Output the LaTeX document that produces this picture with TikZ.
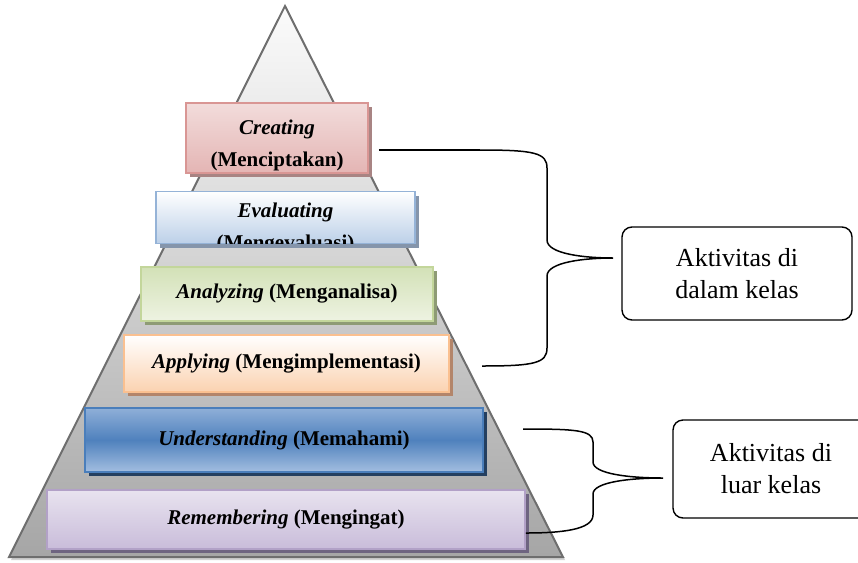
\documentclass[tikz,border=0pt]{standalone}
\usepackage{fontspec}
\setmainfont{Liberation Serif}
\usetikzlibrary{shadows,positioning}

\definecolor{pyrline}{HTML}{6E6E6E}
\definecolor{crtop}{HTML}{F2DCDB}
\definecolor{crbot}{HTML}{E4B5B4}
\definecolor{crline}{HTML}{D99694}
\definecolor{crshad}{HTML}{A88483}
\definecolor{evbot}{HTML}{BCD0E8}
\definecolor{evline}{HTML}{95B3D7}
\definecolor{evshad}{HTML}{8595AB}
\definecolor{antop}{HTML}{D3E1B7}
\definecolor{anbot}{HTML}{EEF3E2}
\definecolor{anline}{HTML}{C3D69B}
\definecolor{anshad}{HTML}{8E9B75}
\definecolor{apbot}{HTML}{FBD2B0}
\definecolor{apline}{HTML}{FAC090}
\definecolor{apshad}{HTML}{B3856A}
\definecolor{untop}{HTML}{8FAFD8}
\definecolor{unmid}{HTML}{4F81BD}
\definecolor{unbot}{HTML}{A3BEE0}
\definecolor{unline}{HTML}{4A7EBB}
\definecolor{unshad}{HTML}{243F60}
\definecolor{retop}{HTML}{E8E3EF}
\definecolor{rebot}{HTML}{C9BCDA}
\definecolor{reline}{HTML}{B2A1C7}
\definecolor{reshad}{HTML}{6E6480}

\begin{document}
\begin{tikzpicture}[x=1pt,y=-1pt,
    lvl/.style={draw=#1,line width=1.6pt,inner sep=0pt,
      font=\fontsize{21}{32}\selectfont\bfseries,align=center},
    lvltxt/.style={font=\fontsize{21}{32}\selectfont\bfseries,align=center},
    shad/.style={drop shadow={shadow xshift=4pt,shadow yshift=-4pt,fill=#1,opacity=1}},
    aktiv/.style={draw,rounded corners=10pt,line width=1.4pt,align=center,
      font=\fontsize{26}{32}\selectfont},
    brace/.style={line width=1.5pt}]
  \useasboundingbox (0,0) rectangle (858,562);

  % pyramid
  \coordinate (apex) at (285,6);
  \coordinate (baseR) at (563,557);
  \coordinate (baseL) at (9,557);
  \path[draw=pyrline,line width=2pt,top color=white!97!gray,bottom color=gray!70,
      drop shadow={shadow xshift=2pt,shadow yshift=-3pt,fill=gray!35,opacity=1}]
    (apex) -- (baseR) -- (baseL) -- cycle;

  % levels
  \node[lvl=crline,top color=crtop,bottom color=crbot,shad=crshad,
    minimum width=182pt,minimum height=70pt] (creating) at (277,138) {};
  \node[lvltxt] (creatingtxt) at (277,145) {\textit{Creating}\\(Menciptakan)};

  \node[lvl=evline,top color=white,bottom color=evbot,shad=evshad,
    minimum width=259pt,minimum height=52pt] (evaluating) at (285.5,217.5) {};
  \begin{scope}
    \clip ([shift={(1pt,1pt)}]evaluating.south west)
      rectangle ([shift={(-1pt,-1pt)}]evaluating.north east);
    \node[lvltxt] (evaluatingtxt) at (285.5,229) {\textit{Evaluating}\\(Mengevaluasi)};
  \end{scope}

  \node[lvl=anline,top color=antop,bottom color=anbot,shad=anshad,
    minimum width=292pt,minimum height=54pt] (analyzing) at (287,294)
    {\textit{Analyzing} (Menganalisa)};
  \node[lvl=apline,top color=white,bottom color=apbot,shad=apshad,
    minimum width=325pt,minimum height=57pt] (applying) at (286.5,363.5)
    {\textit{Applying} (Mengimplementasi)};
  \node[lvl=unline,top color=untop,bottom color=unbot,middle color=unmid,shad=unshad,
    minimum width=398pt,minimum height=64pt] (understanding) at (284,440)
    {\textit{Understanding} (Memahami)};
  \node[lvl=reline,top color=retop,bottom color=rebot,shad=reshad,
    minimum width=478pt,minimum height=59pt] (remembering) at (286,519.5)
    {\textit{Remembering} (Mengingat)};

  % groups
  \node[aktiv,minimum width=230pt,minimum height=93pt] (dalam) at (737,273.5)
    {Aktivitas di\\dalam kelas};
  \node[aktiv,minimum width=196pt,minimum height=98pt] (luar) at (771,469)
    {Aktivitas di\\luar kelas};

  % braces
  \coordinate (dalamtop) at (480,150);
  \coordinate (dalamtip) at (613,258);
  \coordinate (dalambot) at (482,366);
  \draw[brace] (creating.east |- dalamtop) ++(10,0) -- (dalamtop);
  \draw[brace] (dalamtop) .. controls (535,150) and (547,153) .. (547,168) -- (547,240)
    .. controls (547,254) and (585,258) .. (dalamtip)
    .. controls (585,258) and (547,262) .. (547,276) -- (547,348)
    .. controls (547,363) and (535,366) .. (dalambot);

  \coordinate (luartop) at (523,429);
  \coordinate (luartip) at (663,478);
  \coordinate (luarbot) at ([yshift=-13.5pt]remembering.east);
  \draw[brace] (luartop) .. controls (575,429) and (593,430) .. (593,442) -- (593,462)
    .. controls (593,474) and (630,478) .. (luartip)
    .. controls (630,478) and (593,482) .. (593,494) -- (593,515)
    .. controls (593,530) and (560,533) .. (luarbot);
\end{tikzpicture}
\end{document}
